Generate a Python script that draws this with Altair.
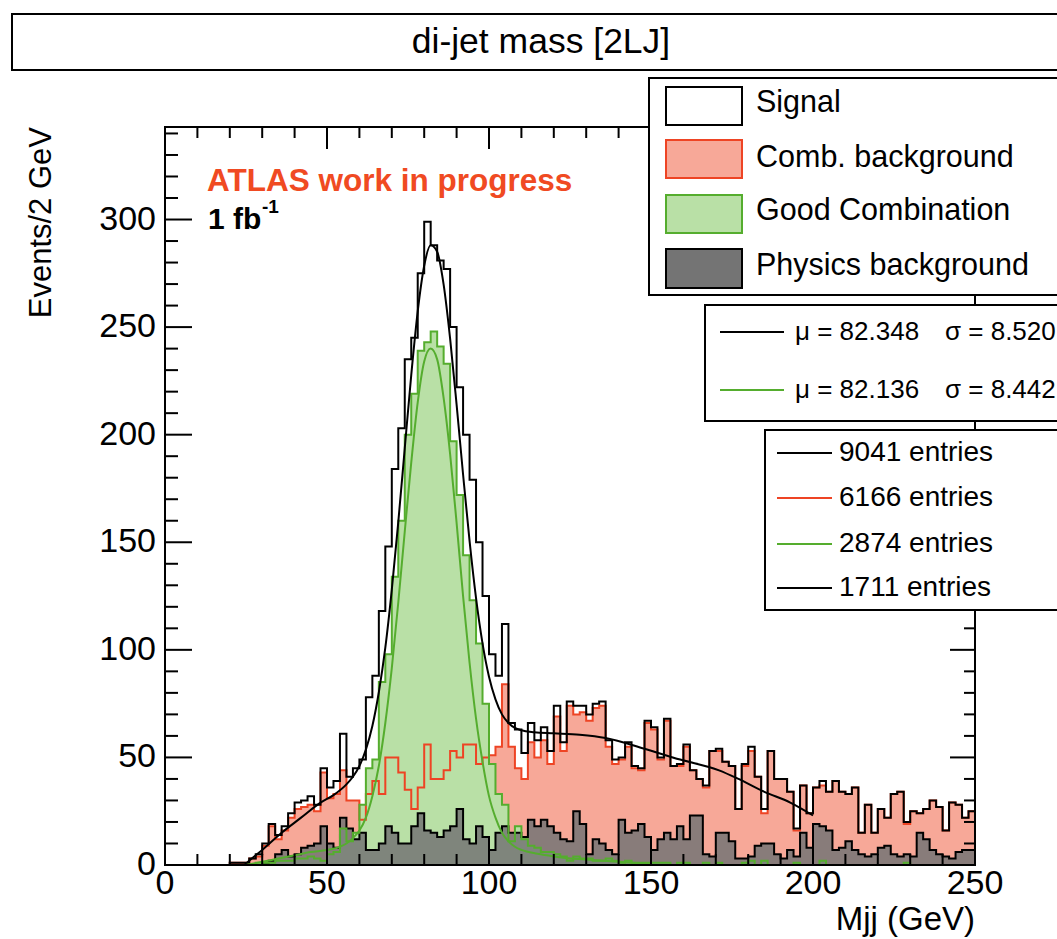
import altair as alt
import pandas as pd

# ---------------------------------------------------------------
# di-jet invariant mass, 2 GeV bins from 0 to 250 GeV
# ---------------------------------------------------------------
bin_lo = list(range(0, 250, 2))

comb_bkg = [
    0, 0, 0, 0, 0, 0, 0, 0, 0, 0,
    1, 1, 1, 3, 4, 9, 18, 12, 16, 22,
    26, 27, 28, 25, 43, 31, 33, 44, 30, 30,
    21, 33, 39, 33, 50, 50, 43, 35, 26, 36,
    56, 40, 40, 44, 53, 50, 56, 56, 47, 50,
    51, 55, 84, 55, 45, 40, 57, 50, 58, 47,
    69, 53, 74, 70, 71, 67, 73, 74, 55, 47,
    49, 55, 45, 44, 66, 63, 49, 67, 46, 46,
    55, 44, 40, 36, 53, 53, 48, 46, 26, 46,
    53, 41, 24, 53, 40, 40, 34, 16, 37, 24,
    36, 37, 34, 39, 34, 33, 36, 15, 28, 15,
    26, 22, 33, 34, 19, 25, 24, 26, 30, 27,
    16, 29, 28, 22, 25,
]

good_comb = [
    0, 0, 0, 0, 0, 0, 0, 0, 0, 0,
    0, 0, 0, 0, 1, 1, 1, 2, 2, 2,
    3, 3, 4, 3, 2, 5, 6, 17, 11, 15,
    28, 45, 49, 85, 98, 134, 160, 200, 219, 239,
    243, 248, 241, 233, 197, 172, 144, 123, 103, 75,
    47, 33, 28, 11, 18, 12, 9, 8, 6, 6,
    5, 4, 2, 4, 3, 3, 2, 2, 3, 2,
    1, 2, 1, 1, 1, 1, 1, 1, 0, 1,
    1, 0, 0, 1, 0, 1, 0, 0, 0, 1,
    2, 0, 2, 0, 0, 0, 0, 1, 0, 0,
    0, 2, 0, 0, 0, 0, 0, 0, 0, 0,
    0, 0, 0, 0, 1, 0, 0, 0, 0, 0,
    0, 0, 0, 0, 0,
]

phys_bkg = [
    0, 0, 0, 0, 0, 0, 0, 0, 0, 0,
    0, 0, 0, 0, 0, 1, 2, 5, 7, 4,
    5, 8, 9, 10, 18, 10, 8, 22, 17, 12,
    15, 7, 7, 10, 18, 15, 10, 10, 18, 24,
    16, 15, 13, 16, 18, 26, 12, 10, 18, 13,
    7, 15, 18, 15, 15, 13, 21, 18, 21, 18,
    15, 12, 11, 25, 19, 5, 12, 10, 7, 5,
    21, 15, 16, 19, 13, 7, 12, 15, 12, 18,
    12, 23, 23, 5, 4, 15, 15, 11, 3, 3,
    4, 9, 10, 10, 5, 3, 7, 4, 15, 8,
    19, 18, 16, 7, 8, 11, 7, 5, 4, 5,
    8, 9, 5, 4, 5, 4, 15, 12, 7, 5,
    4, 3, 6, 7, 7,
]

# fitted curves (signal: black, good combination: green)
fit_sig_m = [24.5, 26, 30, 36, 42, 48, 52, 56, 58, 60,
             62, 64, 66, 68, 70, 72, 74, 76, 78, 80,
             82, 84, 86, 88, 90, 92, 94, 96, 98, 100,
             102, 104, 106, 108, 110, 114, 120, 128, 136, 148,
             159, 171, 177, 185, 193, 200]
fit_sig_n = [0, 2, 7, 15, 22, 29, 32.5, 37.5, 41, 46,
             53.6, 64.6, 80.3, 101, 128, 159.4, 193.7, 227.7, 257.3, 278.5,
             288, 285, 269.7, 244.6, 214, 181.5, 150.6, 124, 103, 87.5,
             77, 70, 66, 63.7, 62.6, 61.7, 61.2, 60.5, 59, 54,
             49, 44, 40, 34, 29, 23]
fit_good_m = [25, 30, 35, 40, 45, 50, 54, 56, 58, 60,
              62, 64, 66, 68, 70, 72, 74, 76, 78, 80,
              82, 84, 86, 88, 90, 92, 94, 96, 98, 100,
              102, 104, 106, 108, 110, 115, 120, 130, 140, 150]
fit_good_n = [0, 1.5, 3, 4.5, 6, 7, 8.5, 10, 12.5, 16,
              22, 32, 46, 66, 91.5, 122, 155, 187, 215, 234,
              240, 235, 217, 191, 159, 125, 94, 68, 48, 32,
              22, 15, 11, 8.5, 7, 5.2, 4, 2.5, 1.5, 0.5]

# axis tick labels
x_tick_vals = [0, 50, 100, 150, 200, 250]
x_tick_text = ["0", "50", "100", "150", "200", "250"]
y_tick_vals = [0, 50, 100, 150, 200, 250, 300]
y_tick_text = ["0", "50", "100", "150", "200", "250", "300"]

legend_labels = ["Signal", "Comb. background", "Good Combination", "Physics background"]
fit_mu = ["\u03bc = 82.348", "\u03bc = 82.136"]
fit_sigma = ["\u03c3 = 8.520", "\u03c3 = 8.442"]
entry_labels = ["9041 entries", "6166 entries", "2874 entries", "1711 entries"]

assert len(comb_bkg) == len(good_comb) == len(phys_bkg) == len(bin_lo) == 125

# signal = combinatorial background + good combination
signal = [c + g for c, g in zip(comb_bkg, good_comb)]

# ---------------------------------------------------------------
W, H = 810, 738
FONT = "Liberation Sans"
RED = "#ee4424"
RED_FILL = "#f7a898"
GREEN = "#55ad2e"
GREEN_FILL = "#b9e0a6"
GREY_FILL = "#747474"

xs = alt.Scale(domain=[0, 250], nice=False, zero=False)
ys = alt.Scale(domain=[0, 343], nice=False, zero=True)


def steps(vals):
    return pd.DataFrame({"m": bin_lo + [250], "n": list(vals) + [vals[-1]]})


X = alt.X("m:Q", scale=xs, axis=None)
Y = alt.Y("n:Q", scale=ys, axis=None)

one = pd.DataFrame({"k": [0]})

layers = []

# filled histograms
layers.append(alt.Chart(steps(comb_bkg)).mark_area(
    interpolate="step-after", color=RED_FILL).encode(x=X, y=Y))
layers.append(alt.Chart(steps(good_comb)).mark_area(
    interpolate="step-after", color=GREEN_FILL).encode(x=X, y=Y))
layers.append(alt.Chart(steps(phys_bkg)).mark_area(
    interpolate="step-after", color=GREY_FILL, opacity=0.85).encode(x=X, y=Y))

# histogram outlines
for vals, col in [(comb_bkg, RED), (phys_bkg, "black"), (signal, "black"), (good_comb, GREEN)]:
    layers.append(alt.Chart(steps(vals)).mark_line(
        interpolate="step-after", color=col, strokeWidth=2).encode(x=X, y=Y))

# fit curves
layers.append(alt.Chart(pd.DataFrame({"m": fit_sig_m, "n": fit_sig_n})).mark_line(
    interpolate="monotone", color="black", strokeWidth=2).encode(x=X, y=Y))
layers.append(alt.Chart(pd.DataFrame({"m": fit_good_m, "n": fit_good_n})).mark_line(
    interpolate="monotone", color=GREEN, strokeWidth=2).encode(x=X, y=Y))

# tick marks on all four sides, pointing inwards
y_major = pd.DataFrame({"n": list(range(0, 301, 50))})
y_minor = pd.DataFrame({"n": [v for v in range(0, 341, 10) if v % 50]})
x_major = pd.DataFrame({"m": list(range(0, 251, 50))})
x_minor = pd.DataFrame({"m": [v for v in range(0, 251, 10) if v % 50]})

for df, ln in [(y_major, 27), (y_minor, 13)]:
    layers.append(alt.Chart(df).mark_rule(color="black", strokeWidth=2).encode(
        y=Y, x=alt.value(0), x2=alt.value(ln)))
    layers.append(alt.Chart(df).mark_rule(color="black", strokeWidth=2).encode(
        y=Y, x=alt.value(W), x2=alt.value(W - ln + 2)))
for df, ln in [(x_major, 22), (x_minor, 11)]:
    layers.append(alt.Chart(df).mark_rule(color="black", strokeWidth=2).encode(
        x=X, y=alt.value(H), y2=alt.value(H - ln)))
    layers.append(alt.Chart(df).mark_rule(color="black", strokeWidth=2).encode(
        x=X, y=alt.value(0), y2=alt.value(ln)))

# frame
layers.append(alt.Chart(one).mark_rect(filled=False, stroke="black", strokeWidth=2).encode(
    x=alt.value(0), x2=alt.value(W), y=alt.value(0), y2=alt.value(H)))

# tick labels
layers.append(alt.Chart(pd.DataFrame({"m": x_tick_vals, "t": x_tick_text})).mark_text(
    font=FONT, fontSize=34, align="center", baseline="middle", color="black").encode(
    x=X, y=alt.value(H + 19), text="t:N"))
layers.append(alt.Chart(pd.DataFrame({"n": y_tick_vals, "t": y_tick_text})).mark_text(
    font=FONT, fontSize=34, align="right", baseline="middle", color="black").encode(
    y=Y, x=alt.value(-9), text="t:N"))


def text(s, x, y, size, align="left", color="black", weight="normal", angle=0, baseline="middle"):
    return alt.Chart(one).mark_text(
        text=s, align=align, baseline=baseline, font=FONT, fontSize=size,
        fontWeight=weight, color=color, angle=angle).encode(
        x=alt.value(x), y=alt.value(y))


def box(x1, x2, y1, y2, fill="white", stroke="black", sw=2):
    return alt.Chart(one).mark_rect(fill=fill, stroke=stroke, strokeWidth=sw).encode(
        x=alt.value(x1), x2=alt.value(x2), y=alt.value(y1), y2=alt.value(y2))


def seg(x1, x2, y, color):
    return alt.Chart(one).mark_rule(color=color, strokeWidth=2).encode(
        x=alt.value(x1), x2=alt.value(x2), y=alt.value(y))


# axis titles
layers.append(text("Events/2 GeV", -123, 0, 31, align="right", angle=270))
layers.append(text("Mjj (GeV)", W, 793, 33, align="right"))

# labels inside the frame
layers.append(text("ATLAS work in progress", 42, 55, 31.5, color="#f04a22", weight="bold"))
layers.append(text("1 fb", 43, 93, 30, weight="bold"))
layers.append(text("-1", 97, 80, 19, weight="bold"))

# title box
layers.append(box(-153, 900, -113, -57))
layers.append(text("di-jet mass [2LJ]", 376, -85, 35.5, align="center"))

# legend: histograms
layers.append(box(484, 900, -49, 168))
swatches = [("white", "black"), (RED_FILL, RED), (GREEN_FILL, GREEN), (GREY_FILL, "black")]
sw_rows = [(-40, -2), (13, 51), (68, 106), (122, 161)]
txt_rows = [-24, 31, 84, 139]
for (f, s), (y1, y2), ty, lab in zip(swatches, sw_rows, txt_rows, legend_labels):
    layers.append(box(501, 577, y1, y2, fill=f, stroke=s, sw=2))
    layers.append(text(lab, 591, ty, 30.5))

# legend: fit results
layers.append(box(540, 900, 178, 294))
for ty, col, mu, sg in zip([205, 263], ["black", GREEN], fit_mu, fit_sigma):
    layers.append(seg(555, 619, ty, col))
    layers.append(text(mu, 630, ty, 26))
    layers.append(text(sg, 780, ty, 26))

# legend: entries
layers.append(box(600, 900, 303, 483))
for ty, col, lab in zip([326, 371, 417, 461], ["black", RED, GREEN, "black"], entry_labels):
    layers.append(seg(612, 667, ty, col))
    layers.append(text(lab, 674, ty, 28))

chart = alt.layer(*layers).properties(
    width=W, height=H,
    padding={"left": 165, "top": 127, "right": 82, "bottom": 74},
    autosize=alt.AutoSizeParams(type="none"),
    background="white",
).configure_view(stroke=None)

chart.save("out.html", embed_options={"renderer": "svg", "actions": False})
